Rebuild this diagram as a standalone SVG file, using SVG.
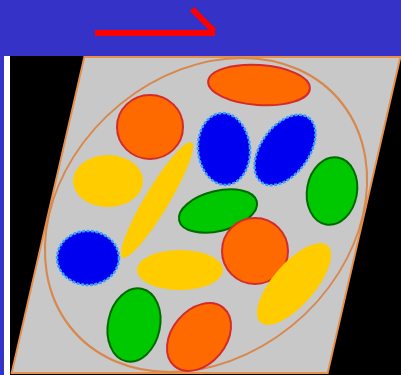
<svg xmlns="http://www.w3.org/2000/svg" width="401" height="375" viewBox="0 0 401 375">
<style>
.or{fill:#ff6a00;stroke:#d42a2a;stroke-width:2}
.bl{fill:#0000f0;stroke:#3aa0ff;stroke-width:2.5;stroke-dasharray:3 1.5}
.gr{fill:#00c800;stroke:#006a00;stroke-width:2}
.ye{fill:#ffcc00}
.frame{fill:none;stroke:#d8884c}
</style>
<rect x="0" y="0" width="401" height="375" fill="#000"/>
<rect x="0" y="0" width="401" height="56" fill="#3532c8"/>
<rect x="0" y="56" width="4" height="319" fill="#3532c8"/>
<rect x="4" y="56" width="6" height="319" fill="#fff"/>
<g id="arrow" stroke="#ff0000" stroke-width="6" fill="none">
<line x1="95" y1="33" x2="215" y2="33"/>
<line x1="192" y1="9" x2="214" y2="31"/>
</g>
<g id="board" transform="matrix(1,0,-0.23,1,206,215)">
<rect x="-158" y="-158" width="316" height="316" fill="#c8c8c8" stroke="#e8904a" stroke-width="2"/>
<circle cx="0" cy="0" r="157" class="frame" stroke-width="2"/>
</g>
<g id="shapes">
<ellipse id="o1" class="or" cx="259" cy="85" rx="51" ry="20" transform="rotate(4 259 85)"/>
<ellipse id="o2" class="or" cx="150" cy="127" rx="33" ry="32"/>
<ellipse id="b1" class="bl" cx="224" cy="149" rx="26" ry="36" transform="rotate(-5 224 149)"/>
<ellipse id="b2" class="bl" cx="285" cy="150" rx="40" ry="24" transform="rotate(-54 285 150)"/>
<ellipse id="g1" class="gr" cx="332" cy="191" rx="25" ry="34" transform="rotate(10 332 191)"/>
<ellipse id="y1" class="ye" cx="108" cy="181" rx="35" ry="26"/>
<ellipse id="y2" class="ye" cx="157" cy="200" rx="67" ry="12" transform="rotate(-59 157 200)"/>
<ellipse id="g2" class="gr" cx="218" cy="211" rx="40" ry="20" transform="rotate(-14 218 211)"/>
<ellipse id="o3" class="or" cx="255" cy="251" rx="33" ry="33"/>
<ellipse id="b3" class="bl" cx="88" cy="258" rx="31" ry="27"/>
<ellipse id="y3" class="ye" cx="180" cy="270" rx="43" ry="20"/>
<ellipse id="y4" class="ye" cx="294" cy="284" rx="51" ry="21" transform="rotate(-49 294 284)"/>
<ellipse id="g3" class="gr" cx="134" cy="325" rx="26" ry="37" transform="rotate(12 134 325)"/>
<ellipse id="o4" class="or" cx="199" cy="337" rx="38" ry="27" transform="rotate(-50 199 337)"/>
</g>
</svg>
